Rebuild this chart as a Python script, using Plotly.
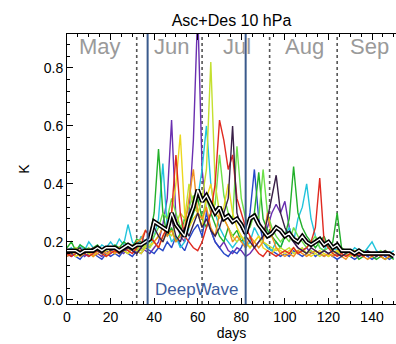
import plotly.graph_objects as go

# x positions: every second day from 0 to 150
DAYS = list(range(0, 151, 2))

purple = [.16,.15,.16,.17,.15,.16,.17,.16,.15,.17,
          .16,.18,.17,.16,.18,.17,.16,.18,.17,.16,
          .18,.20,.26,.35,.62,.28,.22,.20,.30,.55,
          1.0,.45,.30,.24,.20,.18,.20,.17,.16,.18,
          .17,.15,.16,.18,.20,.22,.25,.30,.33,.30,
          .34,.25,.20,.18,.17,.18,.16,.17,.16,.17,
          .16,.15,.16,.15,.16,.15,.16,.15,.16,.15,
          .16,.15,.16,.15,.16,.15]
blue = [.15,.16,.15,.14,.16,.15,.16,.15,.14,.16,
        .15,.16,.15,.17,.16,.15,.17,.16,.18,.17,
        .16,.18,.17,.20,.18,.22,.19,.17,.21,.24,
        .26,.22,.30,.24,.20,.18,.16,.15,.17,.16,
        .18,.22,.30,.45,.28,.20,.18,.17,.16,.15,
        .16,.15,.17,.16,.15,.16,.17,.15,.16,.15,
        .16,.15,.14,.15,.16,.15,.14,.15,.16,.15,
        .14,.15,.16,.15,.14,.15]
cyan = [.17,.18,.16,.19,.17,.20,.18,.17,.19,.18,
        .20,.18,.21,.19,.26,.20,.18,.22,.20,.18,
        .22,.28,.47,.25,.20,.22,.18,.20,.25,.30,
        .35,.45,.60,.40,.30,.25,.22,.20,.18,.20,
        .22,.18,.20,.25,.22,.20,.18,.17,.20,.18,
        .22,.25,.20,.28,.32,.40,.28,.22,.18,.17,
        .20,.18,.17,.16,.17,.16,.18,.17,.16,.18,
        .20,.17,.16,.17,.16,.17]
green = [.18,.20,.17,.19,.18,.16,.18,.19,.17,.18,
         .17,.19,.18,.20,.19,.18,.21,.20,.19,.22,
         .30,.52,.30,.22,.25,.20,.23,.28,.26,.30,
         .35,.28,.25,.30,.26,.22,.20,.25,.22,.24,
         .20,.22,.26,.30,.44,.28,.24,.22,.20,.18,
         .22,.28,.46,.30,.25,.22,.20,.18,.20,.22,
         .18,.20,.30,.18,.16,.15,.16,.14,.15,.16,
         .15,.14,.15,.14,.15,.14]
lightgreen = [.16,.17,.18,.16,.17,.18,.16,.17,.16,.18,
              .17,.16,.18,.17,.16,.18,.17,.19,.18,.20,
              .22,.25,.30,.28,.35,.30,.25,.28,.32,.36,
              .30,.28,.35,.30,.33,.50,.36,.30,.28,.53,
              .35,.28,.25,.30,.28,.45,.30,.25,.22,.20,
              .22,.20,.25,.22,.20,.18,.20,.22,.18,.17,
              .18,.17,.16,.18,.17,.16,.15,.16,.17,.16,
              .15,.16,.17,.16,.15,.16]
yellowgreen = [.17,.16,.18,.17,.16,.17,.18,.17,.16,.17,
               .18,.17,.16,.18,.17,.19,.18,.17,.19,.18,
               .20,.22,.20,.24,.22,.26,.30,.28,.40,.32,
               .30,.35,.45,.82,.40,.30,.28,.25,.22,.20,
               .22,.20,.18,.20,.22,.20,.19,.18,.17,.18,
               .17,.18,.16,.17,.18,.16,.17,.16,.15,.16,
               .15,.16,.17,.15,.16,.15,.16,.17,.15,.16,
               .15,.16,.15,.16,.15,.16]
yellow = [.16,.17,.15,.16,.17,.16,.15,.17,.16,.15,
          .17,.16,.18,.17,.16,.18,.17,.16,.18,.19,
          .20,.18,.22,.25,.30,.40,.57,.30,.25,.28,
          .30,.25,.35,.40,.30,.28,.32,.40,.30,.25,
          .22,.20,.18,.20,.22,.18,.17,.16,.18,.17,
          .16,.17,.18,.16,.17,.16,.15,.16,.17,.16,
          .15,.16,.17,.16,.15,.16,.17,.16,.15,.16,
          .16,.15,.16,.17,.16,.15]
orange = [.15,.16,.17,.15,.16,.17,.15,.16,.17,.16,
          .17,.16,.18,.17,.19,.18,.20,.21,.24,.22,
          .20,.22,.25,.22,.24,.20,.22,.25,.35,.45,
          .30,.28,.32,.25,.22,.30,.28,.25,.20,.22,
          .20,.18,.22,.20,.18,.20,.30,.22,.18,.16,
          .15,.16,.15,.17,.16,.15,.16,.17,.16,.15,
          .16,.15,.16,.15,.14,.16,.15,.16,.15,.14,
          .15,.16,.15,.14,.15,.16]
red = [.16,.15,.16,.17,.16,.15,.16,.17,.16,.15,
       .16,.17,.16,.18,.17,.16,.18,.19,.24,.22,
       .20,.18,.22,.25,.30,.50,.30,.22,.20,.18,
       .17,.20,.25,.30,.40,.62,.55,.45,.50,.35,
       .30,.25,.22,.18,.16,.15,.17,.16,.15,.16,
       .17,.16,.18,.16,.17,.18,.20,.25,.42,.20,
       .18,.16,.15,.16,.15,.16,.15,.16,.15,.16,
       .15,.16,.15,.16,.15,.16]
dark = [.17,.16,.17,.18,.16,.17,.18,.17,.16,.18,
        .17,.18,.16,.17,.18,.17,.16,.18,.20,.22,
        .25,.22,.20,.24,.28,.22,.20,.25,.22,.26,
        .30,.25,.28,.24,.22,.25,.30,.35,.60,.30,
        .25,.22,.20,.18,.20,.22,.28,.35,.43,.30,
        .25,.22,.20,.18,.17,.16,.18,.17,.16,.17,
        .16,.17,.16,.15,.16,.17,.16,.15,.16,.17,
        .16,.15,.16,.17,.16,.15]
mean = [.17,.17,.17,.16,.17,.17,.17,.18,.17,.18,
        .18,.18,.17,.18,.19,.18,.19,.19,.20,.21,
        .27,.26,.25,.24,.30,.26,.24,.22,.28,.32,
        .38,.34,.36,.33,.30,.32,.28,.29,.27,.28,
        .26,.23,.28,.29,.26,.24,.22,.23,.25,.24,
        .22,.23,.21,.20,.22,.20,.19,.20,.21,.19,
        .20,.18,.19,.17,.17,.17,.16,.17,.16,.16,
        .16,.16,.16,.16,.16,.15]

SERIES = [
    ("purple", purple, "#6a2fb0"),
    ("blue", blue, "#2848c8"),
    ("cyan", cyan, "#22c4dc"),
    ("green", green, "#22b02a"),
    ("lightgreen", lightgreen, "#6ee04a"),
    ("yellowgreen", yellowgreen, "#c4e030"),
    ("yellow", yellow, "#ecd820"),
    ("orange", orange, "#f09020"),
    ("red", red, "#e02a20"),
    ("dark", dark, "#3a2048"),
]

MONTH_LABELS = ["May", "Jun", "Jul", "Aug", "Sep"]
MONTH_LABEL_X = [15, 48, 78, 109, 139]
MONTH_BOUNDS = [32, 62, 93, 124]
CAMPAIGN = [37, 82]

fig = go.Figure()
for name, vals, col in SERIES:
    fig.add_trace(go.Scatter(x=DAYS[:len(vals)], y=vals, mode="lines", name=name,
                             line=dict(color=col, width=1.4)))
fig.add_trace(go.Scatter(x=DAYS[:len(mean)], y=mean, mode="lines",
                         line=dict(color="black", width=4.5)))
fig.add_trace(go.Scatter(x=DAYS[:len(mean)], y=mean, mode="lines",
                         line=dict(color="white", width=1.3)))

for xb in MONTH_BOUNDS:
    fig.add_shape(type="line", x0=xb, x1=xb, y0=0, y1=1, yref="paper",
                  line=dict(color="#555555", width=1.6, dash="dot"), layer="below")
for xc in CAMPAIGN:
    fig.add_shape(type="line", x0=xc, x1=xc, y0=0, y1=1, yref="paper",
                  line=dict(color="#3a5a8c", width=2), layer="above")

for lab, xm in zip(MONTH_LABELS, MONTH_LABEL_X):
    fig.add_annotation(x=xm, y=0.875, text=lab, showarrow=False,
                       font=dict(size=22, color="#9a9a9a", family="Liberation Sans"))
fig.add_annotation(x=sum(CAMPAIGN) / 2, y=0.035, text="DeepWave", showarrow=False,
                   font=dict(size=17, color="#3a5a9c", family="Liberation Sans"))

fig.update_layout(
    width=396, height=344,
    margin=dict(l=67, r=0, t=34, b=40),
    paper_bgcolor="white", plot_bgcolor="white",
    showlegend=False,
    font=dict(family="Liberation Sans", size=13, color="black"),
    title=dict(text="Asc+Des 10 hPa", x=0.5, xanchor="center", xref="paper",
               y=1 - 20 / 344, yanchor="middle", font=dict(size=16, color="black")),
)
fig.update_xaxes(range=[0, 151], tickvals=[0, 20, 40, 60, 80, 100, 120, 140],
                 ticks="inside", ticklen=6, tickcolor="black", showline=True,
                 linecolor="black", linewidth=1, mirror="ticks", showgrid=False,
                 zeroline=False, tickfont=dict(size=14),
                 minor=dict(dtick=5, tick0=0, ticks="inside", ticklen=3, tickcolor="black"),
                 title=dict(text="days", font=dict(size=14), standoff=2))
fig.update_yaxes(range=[-0.014, 0.917], tickvals=[0.0, 0.2, 0.4, 0.6, 0.8],
                 ticktext=["0.0", "0.2", "0.4", "0.6", "0.8"],
                 ticks="inside", ticklen=6, tickcolor="black", showline=True,
                 linecolor="black", linewidth=1, mirror=False, showgrid=False,
                 zeroline=False, tickfont=dict(size=14),
                 minor=dict(dtick=0.04, tick0=0, ticks="inside", ticklen=3, tickcolor="black"),
                 title=dict(text="K", font=dict(size=14), standoff=10))

fig.write_html("out.html")
